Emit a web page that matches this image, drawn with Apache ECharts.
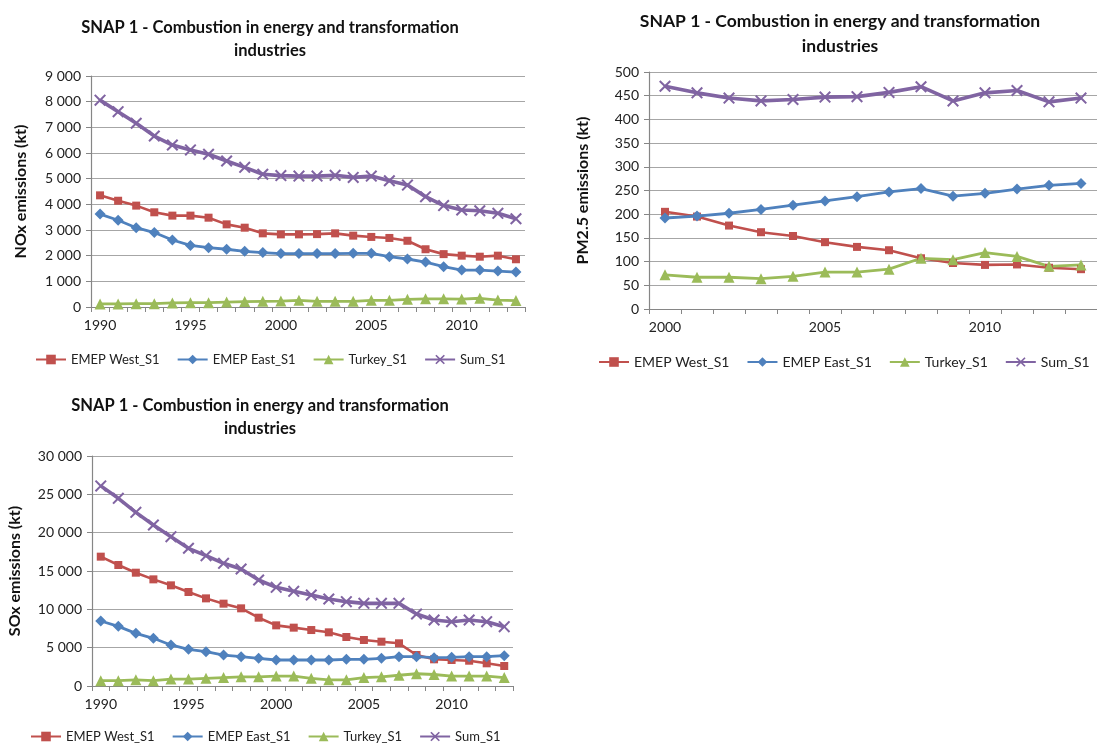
<!DOCTYPE html>
<html>
<head>
<meta charset="utf-8">
<script src="https://cdn.jsdelivr.net/npm/echarts@6/dist/echarts.min.js"></script>
<style>
html,body{margin:0;padding:0;background:#fff;}
#chart{width:1097px;height:745px;}
</style>
</head>
<body>
<div id="chart"></div>
<script>
// ---- Data ----
const yearsLong = ['1990','1991','1992','1993','1994','1995','1996','1997','1998','1999','2000','2001','2002','2003','2004','2005','2006','2007','2008','2009','2010','2011','2012','2013'];
const yearsShort = ['2000','2001','2002','2003','2004','2005','2006','2007','2008','2009','2010','2011','2012','2013'];
const seriesNames = ['EMEP West_S1','EMEP East_S1','Turkey_S1','Sum_S1'];
const chartTitle = 'SNAP 1 - Combustion in energy and transformation\nindustries';

// NOx (kt)
const noxWest  = [4350,4140,3950,3690,3560,3560,3480,3220,3090,2870,2830,2830,2840,2870,2780,2730,2690,2580,2250,2060,2000,1960,2000,1860];
const noxEast  = [3620,3380,3090,2900,2610,2400,2310,2250,2170,2120,2080,2080,2080,2080,2090,2090,1960,1870,1750,1570,1440,1440,1400,1360];
const noxTurkey= [120,120,130,130,160,170,170,190,210,220,230,260,220,220,220,260,260,300,320,320,310,340,270,250];
const noxSum   = [8060,7610,7160,6660,6310,6120,5950,5690,5440,5170,5120,5100,5100,5130,5050,5100,4920,4750,4300,3950,3780,3750,3650,3440];

// PM2.5 (kt)
const pmWest   = [205,195,176,162,154,141,131,124,107,97,93,94,87,84];
const pmEast   = [192,196,202,210,219,228,237,247,254,238,244,253,261,265];
const pmTurkey = [72,67,67,64,69,78,78,84,107,104,119,111,90,93];
const pmSum    = [470,456,445,439,442,447,448,457,469,439,456,461,437,445];

// SOx (kt)
const soxWest  = [16870,15780,14780,13910,13130,12260,11430,10740,10130,8910,7910,7610,7300,7000,6390,6000,5780,5570,4040,3480,3390,3300,2960,2610];
const soxEast  = [8480,7780,6870,6220,5350,4780,4480,4040,3830,3610,3390,3390,3390,3390,3480,3480,3610,3830,3830,3700,3740,3830,3830,3960];
const soxTurkey= [700,700,800,700,900,900,1000,1100,1200,1200,1300,1300,1000,800,800,1100,1200,1400,1600,1500,1300,1300,1300,1100];
const soxSum   = [26100,24480,22650,21000,19480,17960,17000,16000,15260,13830,12870,12350,11870,11350,11000,10780,10780,10780,9390,8610,8390,8610,8390,7740];

// ---- Styles ----
const FONT = 'Lato, "Open Sans", sans-serif';
const colors = ['#C0504D','#4F81BD','#9BBB59','#8064A2'];
const xPath = 'path://M0,1.2L1.2,0L5,3.8L8.8,0L10,1.2L6.2,5L10,8.8L8.8,10L5,6.2L1.2,10L0,8.8L3.8,5Z';
const symbols = ['rect','diamond','triangle', xPath];
const symSizes = [8,11,11,12];
const lineWidths = [2.6,2.8,2.8,3.6];

function fmt(v){ return String(v).replace(/\B(?=(\d{3})+(?!\d))/g,' '); }

const grids = [
  {left:91, top:76, width:434, height:231},
  {left:649, top:72, width:462, height:237},
  {left:92, top:456, width:421, height:230}
];
const yDefs = [
  {max:9000, interval:1000, name:'NOx emissions (kt)', gap:62},
  {max:500, interval:50, name:'PM2.5 emissions (kt)', gap:58},
  {max:30000, interval:5000, name:'SOx emissions (kt)', gap:69}
];
const cats = [yearsLong, yearsShort, yearsLong];
const dataSets = [
  [noxWest,noxEast,noxTurkey,noxSum],
  [pmWest,pmEast,pmTurkey,pmSum],
  [soxWest,soxEast,soxTurkey,soxSum]
];

const xAxes = cats.map((c,i)=>({
  type:'category', gridIndex:i, data:c, boundaryGap:true,
  axisLine:{lineStyle:{color:'#868686', width:1.2}},
  axisTick:{show:true, interval:0, length:5, lineStyle:{color:'#868686'}},
  axisLabel:{interval:4, margin:11, color:'#222', fontSize:14, fontFamily:FONT}
}));
const yAxes = yDefs.map((d,i)=>({
  type:'value', gridIndex:i, min:0, max:d.max, interval:d.interval,
  name:d.name, nameLocation:'middle', nameGap:d.gap,
  nameTextStyle:{fontSize:16, fontWeight:'bold', color:'#111', fontFamily:FONT},
  axisLine:{show:true, lineStyle:{color:'#868686', width:1.2}},
  axisTick:{show:true, length:5, lineStyle:{color:'#868686'}},
  splitLine:{lineStyle:{color:'#A6A6A6', width:1.2}},
  axisLabel:{margin:10, color:'#222', fontSize:14, fontFamily:FONT, formatter:fmt}
}));

const series = [];
dataSets.forEach((set,gi)=>{
  set.forEach((vals,si)=>{
    series.push({
      name:seriesNames[si], type:'line', xAxisIndex:gi, yAxisIndex:gi,
      data:vals, symbol:symbols[si], symbolSize:symSizes[si],
      showSymbol:true, showAllSymbol:true,
      lineStyle:{color:colors[si], width:lineWidths[si]},
      itemStyle:{color:colors[si]},
      z: si===3 ? 3 : 2,
      animation:false
    });
  });
});

function legendAt(left, centerY, fontSize){
  return {
    data:seriesNames, left:left, top:centerY-7, padding:0, width:560,
    orient:'horizontal', itemWidth:30, itemHeight:12, itemGap:17,
    textStyle:{fontSize:fontSize, color:'#222', fontFamily:FONT}, selectedMode:false
  };
}
const legends = [
  legendAt(35, 360, 13),
  legendAt(598, 362, 14),
  legendAt(30, 737, 13)
];

function titleText(x, y, size){
  return {type:'text', x:x, y:y, style:{text:chartTitle, font:'bold '+size+'px '+FONT, fill:'#111', textAlign:'center', lineHeight:Math.round(size*1.4)}};
}
const graphics = [
  titleText(270, 16, 16.5),
  titleText(840, 9, 17.5),
  titleText(260, 394, 16.5)
];

const chart = echarts.init(document.getElementById('chart'), null, {renderer:'canvas'});
chart.setOption({
  animation:false,
  backgroundColor:'#fff',
  grid:grids,
  xAxis:xAxes,
  yAxis:yAxes,
  legend:legends,
  series:series,
  graphic:graphics
});
</script>
</body>
</html>
